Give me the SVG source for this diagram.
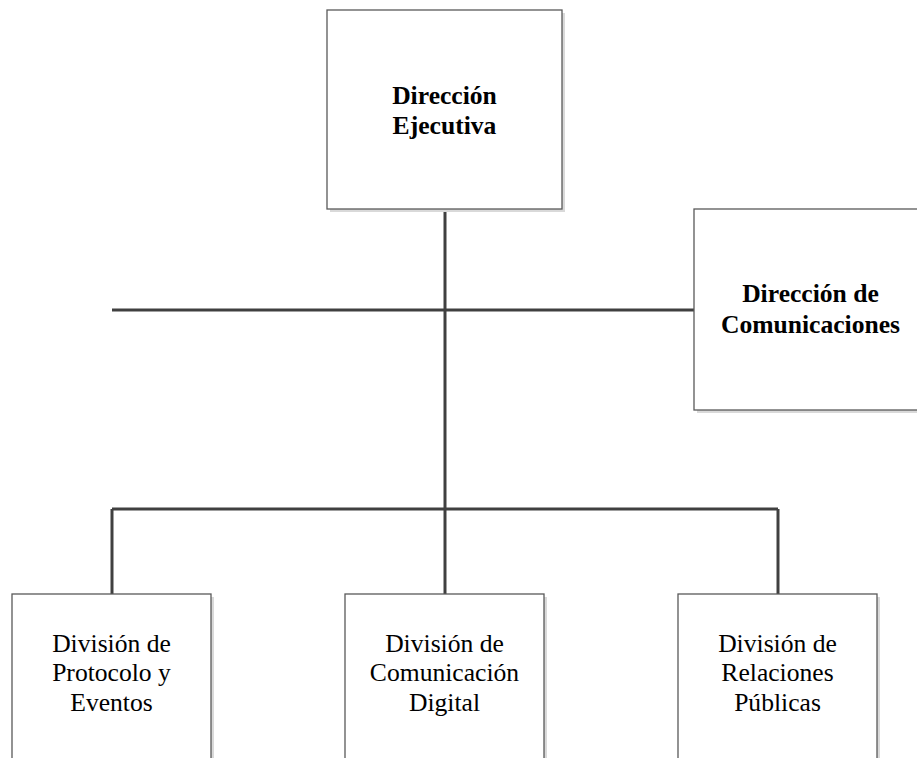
<svg xmlns="http://www.w3.org/2000/svg" width="917" height="758" viewBox="0 0 917 758">
<defs>
<style>
.box{fill:#ffffff;stroke:#595959;stroke-width:1.3}
.shadow{fill:#d9d9d9}
.ln{stroke:#404040;stroke-width:3;fill:none}
.t{font-family:'Liberation Serif','Times New Roman',Times,serif;font-size:25.6px;fill:#000;text-anchor:middle}
.b{font-weight:bold}
</style>
</defs>
<rect width="917" height="758" fill="#fff"/>
<g id="connectors">
<line class="ln" x1="445" y1="209" x2="445" y2="509"/>
<line class="ln" x1="112" y1="310" x2="694" y2="310"/>
<line class="ln" x1="112" y1="509" x2="778" y2="509"/>
<line class="ln" x1="112" y1="509" x2="112" y2="594"/>
<line class="ln" x1="445" y1="509" x2="445" y2="594"/>
<line class="ln" x1="778" y1="509" x2="778" y2="594"/>
</g>
<g id="n1">
<rect class="shadow" x="330" y="13" width="235" height="199"/>
<rect class="box" x="327" y="10" width="235" height="199"/>
<text class="t b" x="444.5" y="104">Dirección</text>
<text class="t b" x="444.5" y="134">Ejecutiva</text>
</g>
<g id="n2">
<rect class="shadow" x="697" y="212" width="240" height="201"/>
<rect class="box" x="694" y="209" width="240" height="201"/>
<text class="t b" x="810.5" y="302">Dirección de</text>
<text class="t b" x="810.5" y="333">Comunicaciones</text>
</g>
<g id="n3">
<rect class="shadow" x="15" y="597" width="199" height="180"/>
<rect class="box" x="12" y="594" width="199" height="180"/>
<text class="t" x="111.5" y="652">División de</text>
<text class="t" x="111.5" y="681">Protocolo y</text>
<text class="t" x="111.5" y="711">Eventos</text>
</g>
<g id="n4">
<rect class="shadow" x="348" y="597" width="199" height="180"/>
<rect class="box" x="345" y="594" width="199" height="180"/>
<text class="t" x="444.5" y="652">División de</text>
<text class="t" x="444.5" y="681">Comunicación</text>
<text class="t" x="444.5" y="711">Digital</text>
</g>
<g id="n5">
<rect class="shadow" x="681" y="597" width="199" height="180"/>
<rect class="box" x="678" y="594" width="199" height="180"/>
<text class="t" x="777.5" y="652">División de</text>
<text class="t" x="777.5" y="681">Relaciones</text>
<text class="t" x="777.5" y="711">Públicas</text>
</g>
</svg>
